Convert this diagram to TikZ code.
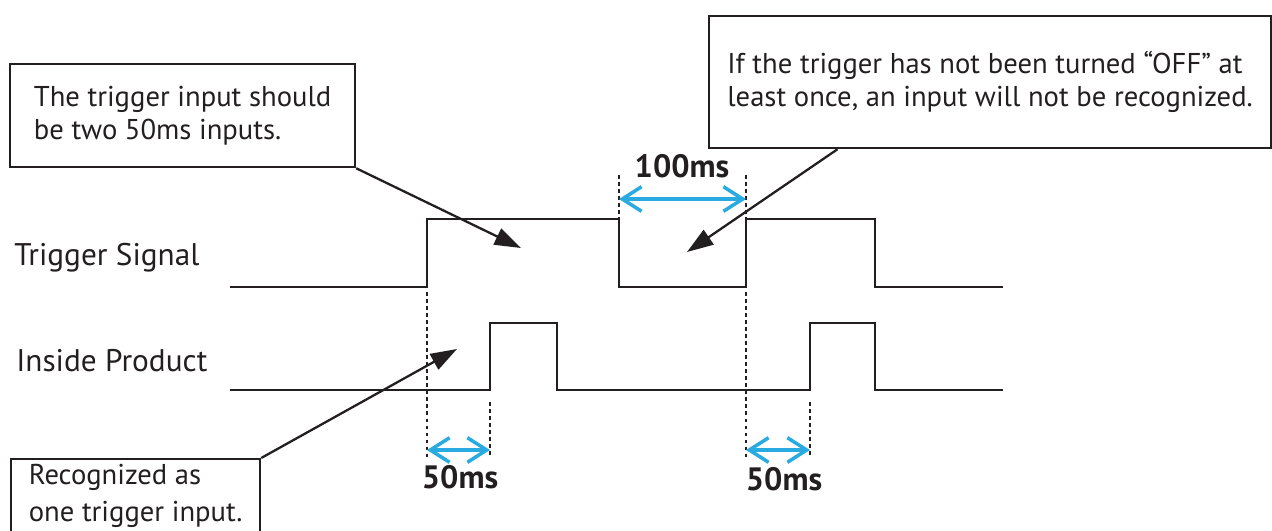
\documentclass[tikz,border=0pt]{standalone}
\usepackage{fontspec}
\setmainfont{PT Sans}
\usetikzlibrary{arrows.meta,calc}
\definecolor{inkblack}{HTML}{231F20}
\definecolor{dimblue}{HTML}{29ABE2}
\begin{document}
\begin{tikzpicture}[x=0.02cm,y=-0.02cm,
	signal/.style={inkblack,line width=1.5pt},
	callout/.style={draw=inkblack,line width=1.3pt,align=left,text=inkblack,inner sep=0pt,font=\fontsize{16.3}{19}\selectfont},
	pointer/.style={inkblack,line width=1.3pt,-{Triangle[length=15pt,width=10pt]}},
	guide/.style={inkblack,line width=1.3pt,dash pattern=on 2pt off 2pt},
	span/.style={dimblue,line width=2pt,{Straight Barb[length=11pt,width=14pt]}-{Straight Barb[length=11pt,width=14pt]}},
	spanlabel/.style={text=inkblack,anchor=base,inner sep=0pt,font=\fontsize{18.4}{20}\selectfont\bfseries},
	siglabel/.style={text=inkblack,anchor=base west,inner sep=0pt,font=\fontsize{17.8}{20}\selectfont}]
	\clip (0,0) rectangle (1272,531);
	% signal names
	\node[siglabel] (trig) at (14,265) {Trigger Signal};
	\node[siglabel] (prod) at (16,371) {Inside Product};
	% trigger signal
	\draw[signal] (230,287) -- (427,287) -- (427,219) -- (619,219) -- (619,287) -- (746,287) -- (746,219) -- (875,219) -- (875,287) -- (1003,287);
	% inside product
	\draw[signal] (230,390) -- (490,390) -- (490,323) -- (557,323) -- (557,390) -- (810,390) -- (810,323) -- (875,323) -- (875,390) -- (1003,390);
	% dotted guides
	\draw[guide] (619,175) -- (619,218);
	\draw[guide] (746,175) -- (746,218);
	\draw[guide] (427,292) -- (427,458);
	\draw[guide] (490,402) -- (490,458);
	\draw[guide] (746,292) -- (746,458);
	\draw[guide] (810,402) -- (810,458);
	% 100ms span
	\coordinate (off1) at (619,199);
	\coordinate (off2) at (746,199);
	\draw[span] (off1) -- (off2);
	\node[spanlabel] (t100) at (682,177) {100ms};
	% 50ms spans
	\coordinate (on1) at (427,450);
	\coordinate (on2) at (490,450);
	\draw[span] (on1) -- (on2);
	\node[spanlabel] (t50a) at (460,488) {50ms};
	\coordinate (on3) at (746,450);
	\coordinate (on4) at (810,450);
	\draw[span] (on3) -- (on4);
	\node[spanlabel] (t50b) at (784,490) {50ms};
	% callouts
	\node[callout,anchor=north west,minimum width=6.9cm,minimum height=2.06cm] (note1) at (9,63) {The trigger input should\\be two 50ms inputs.};
	\node[callout,anchor=north west,minimum width=11.24cm,minimum height=2.64cm] (note2) at (708,15) {If the trigger has not been turned “OFF” at\\least once, an input will not be recognized.};
	\node[callout,anchor=north west,minimum width=4.98cm,inner ysep=0.1cm,text depth=1cm,font=\fontsize{16.3}{21}\selectfont] (note3) at (10,458) {Recognized as\\one trigger input.};
	\coordinate (tip1) at (521,248);
	\coordinate (tip2) at (687,252);
	\coordinate (tip3) at (457,349);
	\draw[pointer] (note1.south east) -- (tip1);
	\draw[pointer] ($(note2.south west)!0.2295!(note2.south east)$) -- (tip2);
	\draw[pointer] (note3.north east) -- (tip3);
\end{tikzpicture}
\end{document}
